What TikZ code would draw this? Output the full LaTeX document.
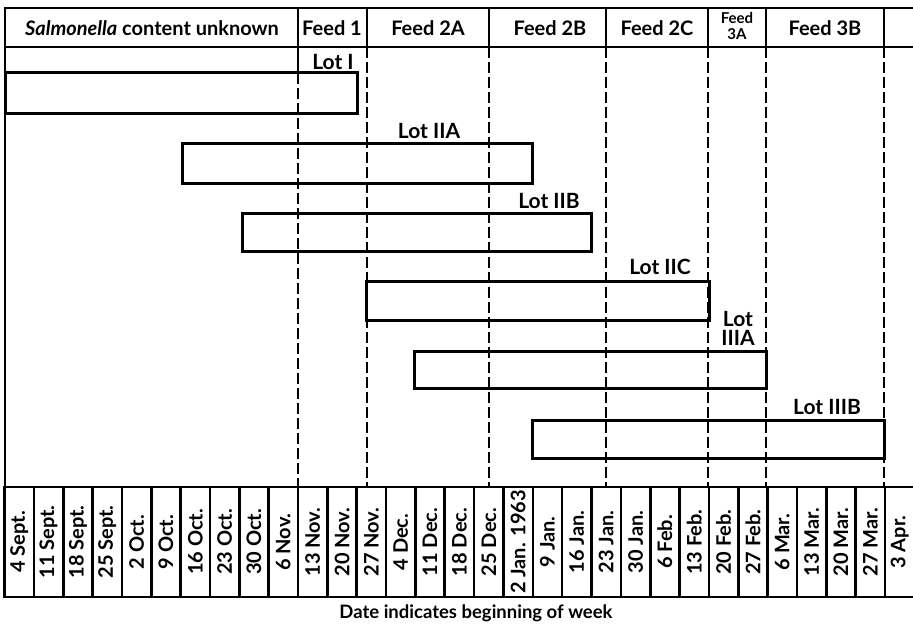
\documentclass[tikz,border=0pt]{standalone}
\usepackage{fontspec}
\setmainfont{Lato}
\usetikzlibrary{positioning}
\tikzset{
  gridline/.style={line width=2.6pt, line cap=rect},
  lotbar/.style={draw, line width=3pt},
  feedsplit/.style={line width=2.6pt, dash pattern=on 11pt off 4pt},
  hdrtext/.style={font=\fontsize{20}{22}\selectfont\bfseries, inner sep=0pt},
  smalltext/.style={font=\fontsize{15}{15.5}\selectfont\bfseries, inner sep=0pt, align=center},
  lottext/.style={font=\fontsize{21}{19}\selectfont\bfseries, inner sep=0pt, align=center},
  datetext/.style={font=\fontsize{20}{20}\selectfont\bfseries, rotate=90, inner sep=0pt},
  captext/.style={font=\fontsize{18.5}{20}\selectfont\bfseries, inner sep=0pt},
}
\begin{document}
\begin{tikzpicture}[x=1pt, y=-1pt]
\useasboundingbox (0,0) rectangle (913,626);
%% Header row
\draw[gridline] (913,8) -- (5,8) -- (5,487);
\draw[gridline] (5,47) -- (913,47);
\foreach \x in {298,367,489,606,708,766,884}
  \draw[gridline] (\x,8) -- (\x,47);
\draw[gridline] (298,47) -- (298,73);
\node[hdrtext] (hdrUnknown) at (152,28) {\textit{Salmonella} content unknown};
\node[hdrtext] (hdrFeedI) at (332,28) {Feed 1};
\node[hdrtext] (hdrFeedIIA) at (428,28) {Feed 2A};
\node[hdrtext] (hdrFeedIIB) at (550,28) {Feed 2B};
\node[hdrtext] (hdrFeedIIC) at (657,28) {Feed 2C};
\node[smalltext] (hdrFeedIIIA) at (737,26) {Feed\\3A};
\node[hdrtext] (hdrFeedIIIB) at (825,28) {Feed 3B};

%% Feed boundaries
\foreach \x/\ytop in {298/73,367/47,489/47,606/47,708/47,766/47,884/47}
  \draw[feedsplit] (\x,\ytop) -- (\x,487);

%% Lots
\draw[lotbar] (5,73) rectangle (357,113);
\node[lottext] (lblLotI) at (333,62) {Lot I};
\draw[lotbar] (182,143) rectangle (532,183);
\node[lottext] (lblLotIIA) at (429,131) {Lot IIA};
\draw[lotbar] (242,213) rectangle (591,251);
\node[lottext] (lblLotIIB) at (549,201) {Lot IIB};
\draw[lotbar] (366,281) rectangle (709,320);
\node[lottext] (lblLotIIC) at (660,267) {Lot IIC};
\draw[lotbar] (414,351) rectangle (766,388);
\node[lottext] (lblLotIIIA) at (738,328) {Lot\\IIIA};
\draw[lotbar] (532,420) rectangle (884,458);
\node[lottext] (lblLotIIIB) at (827,407) {Lot IIIB};

%% Date row
\draw[gridline] (4,487) -- (913,487);
\draw[gridline] (4,597) -- (913,597);
\foreach \d [count=\i from 0] in {4 Sept., 11 Sept., 18 Sept., 25 Sept., 2 Oct., 9 Oct.,
    16 Oct., 23 Oct., 30 Oct., 6 Nov., 13 Nov., 20 Nov., 27 Nov., 4 Dec., 11 Dec.,
    18 Dec., 25 Dec., 2 Jan. 1963, 9 Jan., 16 Jan., 23 Jan., 30 Jan., 6 Feb., 13 Feb.,
    20 Feb., 27 Feb., 6 Mar., 13 Mar., 20 Mar., 27 Mar., 3 Apr.} {
  \draw[gridline] ({4.5+29.35*\i},487) -- ({4.5+29.35*\i},597);
  \node[datetext] (date\i) at ({4.5+29.35*(\i+0.5)},542) {\d};
}
\node[captext] (caption) at (476,613) {Date indicates beginning of week};
\end{tikzpicture}
\end{document}
